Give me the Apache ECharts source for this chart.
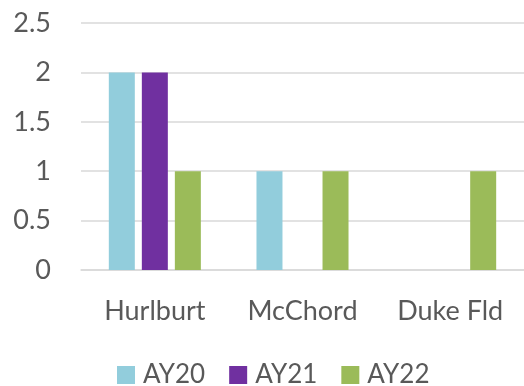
<!DOCTYPE html>
<html>
<head>
<meta charset="utf-8">
<script src="https://cdn.jsdelivr.net/npm/echarts@6/dist/echarts.min.js"></script>
<style>
  html, body { margin: 0; padding: 0; background: #fff; }
  #chart { width: 524px; height: 386px; }
</style>
</head>
<body>
<div id="chart"></div>
<script>
const categories = ['Hurlburt', 'McChord', 'Duke Fld'];
const seriesNames = ['AY20', 'AY21', 'AY22'];
const ay20 = [2, 1, 0];
const ay21 = [2, 0, 0];
const ay22 = [1, 1, 1];
const yTicks = [0, 0.5, 1, 1.5, 2, 2.5];

const colors = ['#92CDDC', '#7030A0', '#9BBB59'];
const font = 'Lato, "Open Sans", sans-serif';
const textColor = '#595959';

const chart = echarts.init(document.getElementById('chart'), null, { renderer: 'canvas' });

const values = [ay20, ay21, ay22];
chart.setOption({
  animation: false,
  color: colors,
  grid: { left: 81, width: 444, top: 23, height: 247, containLabel: false },
  legend: {
    data: seriesNames,
    top: 362,
    left: 117,
    padding: 0,
    icon: 'rect',
    itemWidth: 18,
    itemHeight: 18,
    itemGap: 24,
    textStyle: { fontFamily: font, fontSize: 26, color: textColor, padding: [0, 0, 0, 3] }
  },
  xAxis: {
    type: 'category',
    data: categories,
    axisLine: { show: true, lineStyle: { color: '#d9d9d9', width: 1.5 } },
    axisTick: { show: false },
    axisLabel: { fontFamily: font, fontSize: 27, color: textColor, margin: 28 }
  },
  yAxis: {
    type: 'value',
    min: yTicks[0],
    max: yTicks[yTicks.length - 1],
    interval: 0.5,
    axisLine: { show: false },
    axisTick: { show: false },
    splitLine: { lineStyle: { color: '#d9d9d9', width: 1.5 } },
    axisLabel: { fontFamily: font, fontSize: 27, color: textColor, margin: 30 }
  },
  series: seriesNames.map((name, i) => ({
    name,
    type: 'bar',
    data: values[i],
    barWidth: 26,
    barGap: '27%',
    itemStyle: { color: colors[i] }
  }))
});
</script>
</body>
</html>
